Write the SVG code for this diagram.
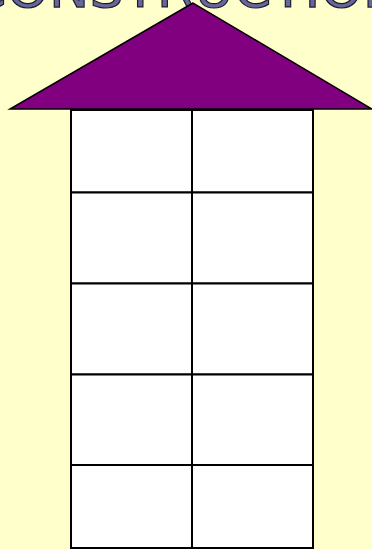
<svg xmlns="http://www.w3.org/2000/svg" width="372" height="549" viewBox="0 0 372 549">
  <style>
    .title { font-family: "DejaVu Sans", "Liberation Sans", sans-serif; font-size: 54px; fill: #66669a; stroke: #1a1a2e; stroke-width: 1.2px; }
    .roof { fill: #800080; stroke: #000000; stroke-width: 1.5; stroke-linejoin: miter; }
    .cell { fill: #ffffff; stroke: #000000; stroke-width: 2; }
  </style>
  <rect x="0" y="0" width="372" height="549" fill="#ffffcc"/>
  <text class="title" x="186" y="7" text-anchor="middle">CONSTRUCTION</text>
  <g id="roof">
    <polygon class="roof" points="193,3 10,109 372,109"/>
  </g>
  <g id="house">
    <g id="cell-1-1"><rect class="cell" x="71" y="110" width="121" height="82.5"/></g>
    <g id="cell-1-2"><rect class="cell" x="192" y="110" width="121" height="82.5"/></g>
    <g id="cell-2-1"><rect class="cell" x="71" y="192.5" width="121" height="91"/></g>
    <g id="cell-2-2"><rect class="cell" x="192" y="192.5" width="121" height="91"/></g>
    <g id="cell-3-1"><rect class="cell" x="71" y="283.5" width="121" height="91"/></g>
    <g id="cell-3-2"><rect class="cell" x="192" y="283.5" width="121" height="91"/></g>
    <g id="cell-4-1"><rect class="cell" x="71" y="374.5" width="121" height="90.5"/></g>
    <g id="cell-4-2"><rect class="cell" x="192" y="374.5" width="121" height="90.5"/></g>
    <g id="cell-5-1"><rect class="cell" x="71" y="465" width="121" height="83"/></g>
    <g id="cell-5-2"><rect class="cell" x="192" y="465" width="121" height="83"/></g>
  </g>
  <g id="connectors"/>
</svg>
